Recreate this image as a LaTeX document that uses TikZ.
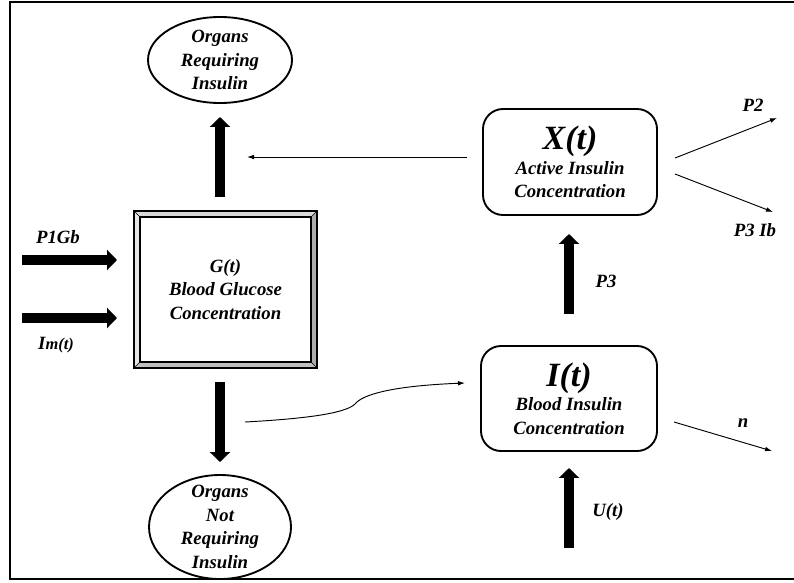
\documentclass[tikz,border=0pt]{standalone}
\usepackage{fontspec}
\setmainfont{Liberation Serif}
\usetikzlibrary{calc}
\usetikzlibrary{positioning}
\usetikzlibrary{arrows.meta}

\tikzset{
    lbl/.style={font=\fontsize{16}{20}\selectfont\bfseries\itshape, align=center, inner sep=0pt},
    organ/.style={lbl, rectangle, outer sep=0pt},
    organline/.style={line width=1.6pt},
    concbox/.style={lbl, rectangle, draw, rounded corners=0.6cm, line width=1.6pt, outer sep=0pt},
    fatarrow/.style={line width=8.5pt, -{Triangle[width=17pt,length=8.5pt]}},
    thinarrow/.style={line width=0.8pt, -{Latex[length=6pt,width=4pt]}},
}
\newcommand{\bigvar}[1]{{\fontsize{29}{32}\selectfont #1}}

\begin{document}
\begin{tikzpicture}[x=0.03cm, y=-0.03cm]
    \useasboundingbox (0,0) rectangle (794,582);
    \clip (0,0) rectangle (794,582);
    \draw[line width=1.7pt] (800,2) -- (10,2) -- (10,579) -- (800,579); % frame

    % organs
    \node[organ, minimum width=4.32cm, minimum height=2.58cm] (req) at (220,60) {Organs\\Requiring\\Insulin};
    \draw[organline] (req.center) ellipse [x radius=72, y radius=43];
    \node[organ, minimum width=4.26cm, minimum height=3.12cm] (noreq) at (220,527) {Organs\\Not\\Requiring\\Insulin};
    \draw[organline] (noreq.center) ellipse [x radius=71, y radius=52];

    % glucose compartment with bevel
    \node[lbl, rectangle, outer sep=0pt, minimum width=5.49cm, minimum height=4.71cm] (gbox) at (225.5,289.5)
        {G(t)\\Blood Glucose\\Concentration};
    \fill[gray!30] (gbox.north west) -- (gbox.north east) -- ($(gbox.north east)+(-6,6)$) -- ($(gbox.north west)+(6,6)$) -- cycle;
    \fill[gray!20] (gbox.north west) -- ($(gbox.north west)+(6,6)$) -- ($(gbox.south west)+(6,-6)$) -- (gbox.south west) -- cycle;
    \fill[gray!65] (gbox.north east) -- (gbox.south east) -- ($(gbox.south east)+(-6,-6)$) -- ($(gbox.north east)+(-6,6)$) -- cycle;
    \fill[gray!50] (gbox.south west) -- ($(gbox.south west)+(6,-6)$) -- ($(gbox.south east)+(-6,-6)$) -- (gbox.south east) -- cycle;
    \draw[line width=0.9pt] (gbox.north west) rectangle (gbox.south east);
    \draw[line width=0.9pt] ($(gbox.north west)+(6,6)$) rectangle ($(gbox.south east)+(-6,-6)$);
    \foreach \c/\d in {north west/{6,6}, north east/{-6,6}, south east/{-6,-6}, south west/{6,-6}}
        \draw[line width=0.5pt] (gbox.\c) -- ($(gbox.\c)+(\d)$);

    % insulin compartments
    \node[concbox, minimum width=5.22cm, minimum height=3.18cm] (xbox) at (570,162)
        {\bigvar{X(t)}\\[1pt]Active Insulin\\Concentration};
    \node[concbox, minimum width=5.28cm, minimum height=3.15cm] (ibox) at (569,398.5)
        {\bigvar{I(t)}\\[1pt]Blood Insulin\\Concentration};

    % free ends
    \coordinate (p1in) at (22,260);
    \coordinate (imin) at (22,318);
    \coordinate (uin) at (569,548);
    \coordinate (xout) at (247,157);
    \coordinate (p2out) at (777,118);
    \coordinate (p3out) at (773,212);
    \coordinate (nout) at (772,451);
    \coordinate (cstart) at (245,422);

    % thick flows
    \draw[fatarrow, shorten <=0.42cm, shorten >=0.42cm] (req.south |- gbox.north) -- (req.south);
    \draw[fatarrow, shorten <=0.42cm, shorten >=0.39cm] (noreq.north |- gbox.south) -- (noreq.north);
    \draw[fatarrow, shorten >=0.51cm] (p1in) -- (gbox.west |- p1in);
    \draw[fatarrow, shorten >=0.51cm] (imin) -- (gbox.west |- imin);
    \draw[fatarrow, shorten <=0.96cm, shorten >=0.57cm] (ibox.north) -- (ibox.north |- xbox.south);
    \draw[fatarrow, shorten >=0.51cm] (uin) -- (ibox.south);

    % thin flows
    \draw[thinarrow] ($(xbox.west)+(-16,-5)$) -- (xout);
    \draw[thinarrow] ($(xbox.east)+(18,-4)$) -- (p2out);
    \draw[thinarrow] ($(xbox.east)+(18,12)$) -- (p3out);
    \draw[thinarrow] ($(ibox.east)+(17,23.5)$) -- (nout);
    \draw[thinarrow] (cstart) .. controls (300,419) and (345,414) .. (355,404)
        .. controls (362,395) and (390,386) .. ($(ibox.west)+(-16,-15.5)$);

    % rate labels
    \node[lbl] (lp1) at (58,237) {P1Gb};
    \node[lbl] (lim) at (56,345) {I{\fontsize{14}{16}\selectfont m(t)}};
    \node[lbl] (lp3) at (606,281) {P3};
    \node[lbl] (lu) at (608,512) {U(t)};
    \node[lbl] (ln) at (743,423) {n};
    \node[lbl] (lp2) at (753,105) {P2};
    \node[lbl] (lp3ib) at (755,230) {P3 Ib};
\end{tikzpicture}
\end{document}
